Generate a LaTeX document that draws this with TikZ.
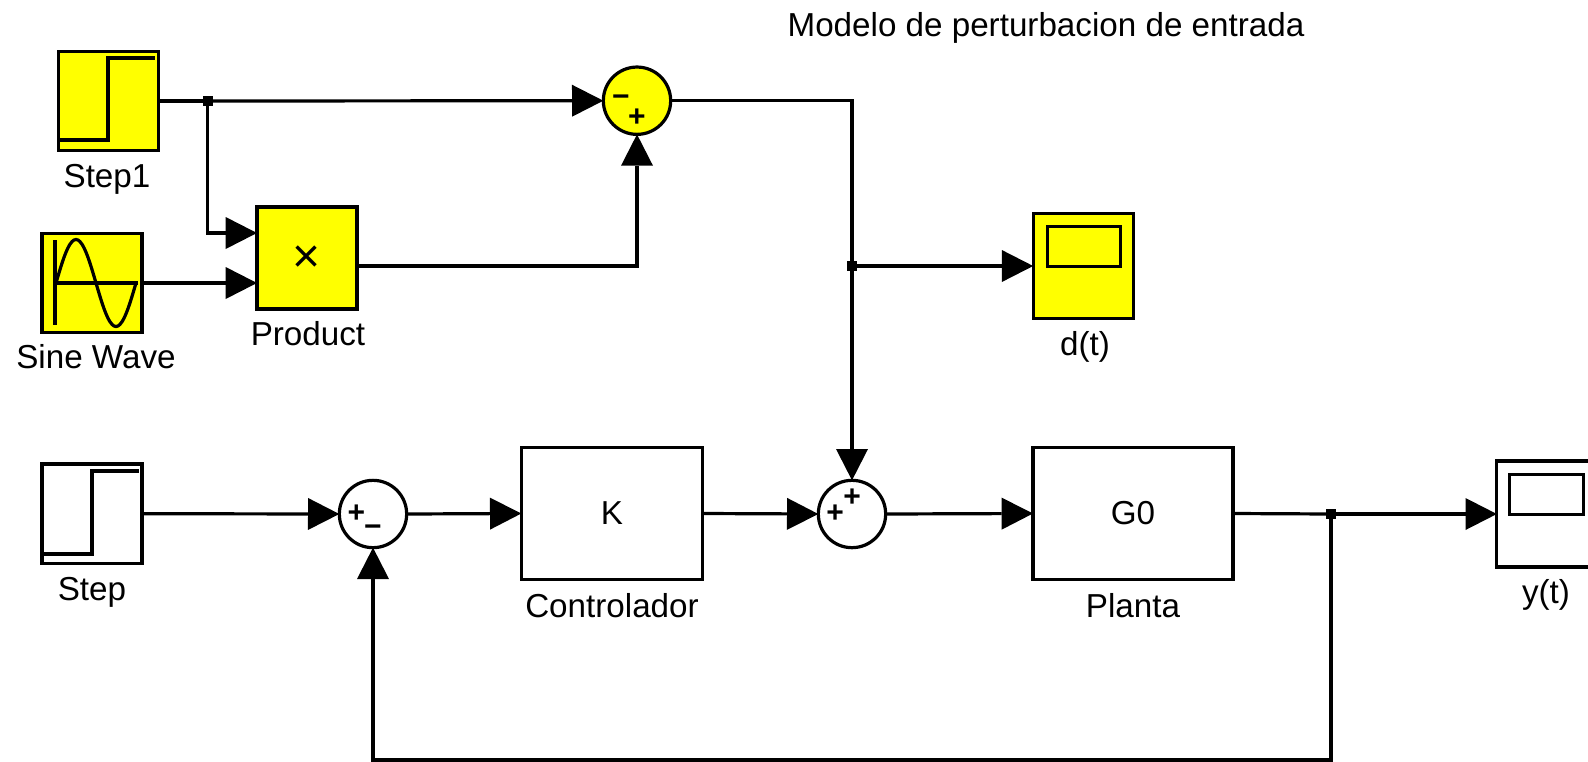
\documentclass[tikz,border=0pt]{standalone}
\usepackage{fontspec}
\setmainfont{Liberation Sans}
\usetikzlibrary{arrows.meta}
\newcommand{\labelfont}{\fontsize{24.9}{28}\selectfont}
\newcommand{\signfont}{\fontsize{22.5}{24}\bfseries\selectfont}
\tikzset{
  px/.style={x=0.75pt,y=-0.75pt},
  wire/.style={line width=2.4pt,draw=black},
  arrowwire/.style={wire,-{Triangle[length=23.5pt,width=24pt,line width=0pt]}},
  blockbox/.style={draw=black,line width=2.4pt,fill=white,outer sep=0pt,inner sep=0pt,font=\labelfont},
  yellowbox/.style={blockbox,fill=sim},
  sumnode/.style={circle,draw=black,line width=2.4pt,fill=white,outer sep=0pt,inner sep=0pt,minimum size=50.5pt},
  yellowsum/.style={sumnode,fill=sim},
  caption/.style={anchor=base,inner sep=0pt,font=\labelfont,text=black},
  signmark/.style={inner sep=0pt,font=\signfont},
  junction/.style={fill=black,inner sep=0pt,minimum size=7.5pt,outer sep=0pt},
  icon/.style={line width=2.4pt,draw=black,line join=miter}
}
\definecolor{sim}{RGB}{255,255,0}
\begin{document}
\begin{tikzpicture}[px]
\useasboundingbox (0,0) rectangle (1588,761);
\clip (0,0) rectangle (1588,761);
\fill[white] (0,0) rectangle (1588,761);

% blocks
\node[yellowbox,minimum width=75pt,minimum height=74.5pt] (stepA) at (108.5,101) {};
\node[yellowbox,minimum width=75pt,minimum height=74.5pt] (sine) at (92,283) {};
\node[yellowbox,minimum width=75pt,minimum height=76.5pt] (prod) at (307,258) {};
\node[inner sep=0pt,font=\fontsize{36}{40}\selectfont] (prodmark) at (307,259.5) {×};
\node[yellowsum] (sumA) at (637,100.7) {};
\node[yellowbox,minimum width=75.5pt,minimum height=79pt] (scopeD) at (1083.5,266) {};
\node[yellowbox,minimum width=55pt,minimum height=30pt] (screenD) at (1084,246.5) {};
\node[blockbox,minimum width=75pt,minimum height=74.5pt] (stepB) at (92,513.7) {};
\node[sumnode] (sumB) at (373,514) {};
\node[blockbox,minimum width=136pt,minimum height=99.5pt] (ctrl) at (612,513.5) {K};
\node[sumnode] (sumC) at (852,514) {};
\node[blockbox,minimum width=150pt,minimum height=99.5pt] (plant) at (1133,513.5) {G0};
\node[blockbox,minimum width=76pt,minimum height=79.5pt] (scopeY) at (1547.5,514) {};
\node[blockbox,minimum width=55pt,minimum height=30pt] (screenY) at (1546.5,494.5) {};

% icons
\draw[icon] (59,140) -- (108,140) -- (108,58) -- (155,58);
\draw[icon] (43,554) -- (92,554) -- (92,471) -- (139,471);
\draw[icon] (55,240) -- (55,325);
\draw[icon] (53,283) -- (138,283);
\draw[icon,smooth,samples=41,domain=0:360] plot ({56+\x/4.5},{283-43.5*sin(\x)});

% signs
\node[signmark] (sA1) at (621,100.7) {−};
\node[signmark] (sA2) at (637,118) {+};
\node[signmark] (sB1) at (356.5,514) {+};
\node[signmark] (sB2) at (373,531) {−};
\node[signmark] (sC1) at (835,514) {+};
\node[signmark] (sC2) at (852,498) {+};

% junctions and ports
\node[junction] (j1) at (207.7,101) {};
\node[junction] (j2) at (852,266) {};
\node[junction] (j3) at (1331,514) {};
\coordinate (prodA) at (257,233);
\coordinate (prodB) at (257,283);
\coordinate (prodOut) at (357,266);
\coordinate (fbDown) at (1331,760);

% connectors
\draw[wire] (stepA.east) -- (j1.center);
\draw[arrowwire] (j1.center) -- (sumA.west);
\draw[arrowwire] (j1.center) |- (prodA);
\draw[arrowwire] (sine.east) -- (prodB);
\draw[arrowwire] (prodOut) -| (sumA.south);
\draw[wire] (sumA.east) -| (j2.center);
\draw[arrowwire] (j2.center) -- (sumC.north);
\draw[arrowwire] (j2.center) -- (scopeD.west);
\draw[arrowwire] (stepB.east) -- (sumB.west);
\draw[arrowwire] (sumB.east) -- (ctrl.west);
\draw[arrowwire] (ctrl.east) -- (sumC.west);
\draw[arrowwire] (sumC.east) -- (plant.west);
\draw[wire] (plant.east) -- (j3.center);
\draw[arrowwire] (j3.center) -- (scopeY.west);
\draw[arrowwire] (j3.center) -- (fbDown) -| (sumB.south);

% captions
\node[caption] (tStepA) at (107,187) {Step1};
\node[caption] (tSine) at (96,368) {Sine Wave};
\node[caption] (tProd) at (308,345) {Product};
\node[caption] (tD) at (1085,355) {d(t)};
\node[caption] (tStepB) at (92,600) {Step};
\node[caption] (tCtrl) at (612,617) {Controlador};
\node[caption] (tPlant) at (1133,617) {Planta};
\node[caption] (tY) at (1546,603) {y(t)};
\node[caption] (tTitle) at (1046,36) {Modelo de perturbacion de entrada};
\end{tikzpicture}
\end{document}
